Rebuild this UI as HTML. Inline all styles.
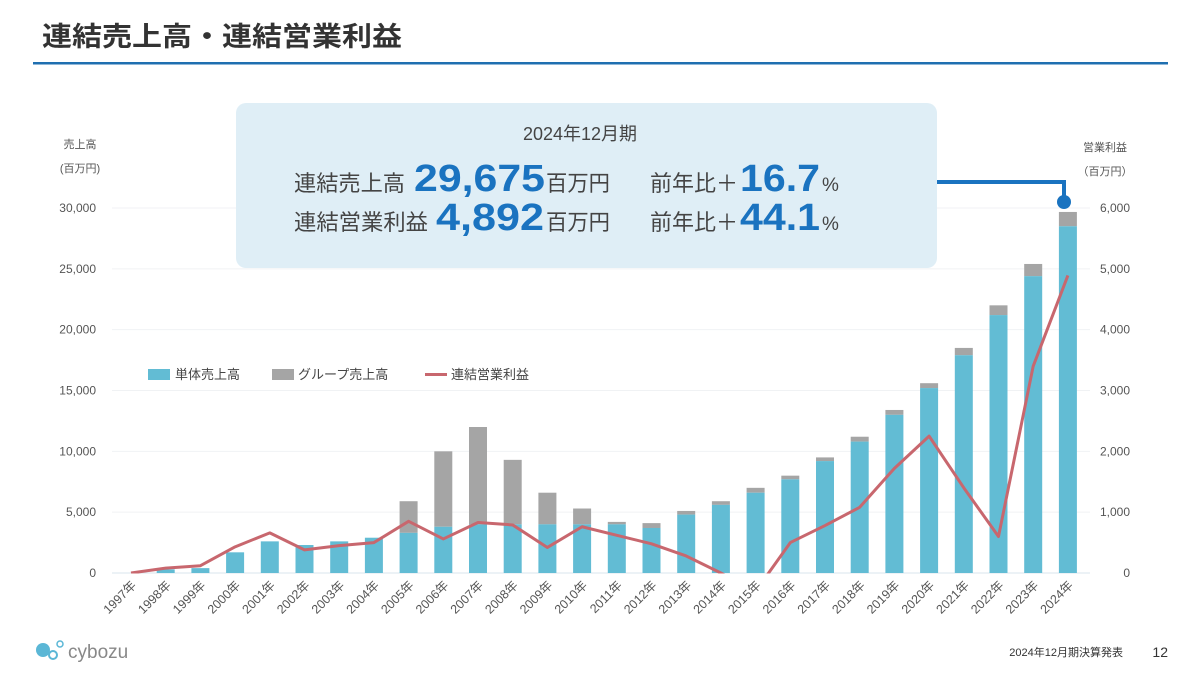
<!DOCTYPE html>
<html><head><meta charset="utf-8"><style>
html,body{margin:0;padding:0;background:#fff}
svg{display:block;font-family:"Liberation Sans","Noto Sans CJK JP",sans-serif}
</style></head><body>
<svg id="s" width="1200" height="675" viewBox="0 0 1200 675" xmlns="http://www.w3.org/2000/svg">
<text x="42" y="46" font-size="27" font-weight="bold" fill="#333" textLength="360" lengthAdjust="spacingAndGlyphs">連結売上高・連結営業利益</text>
<rect x="33" y="62" width="1135" height="2.5" fill="#1f6fb0"/>
<g id="grid"></g>
<g id="bars"></g>
<clipPath id="cp"><rect x="100" y="100" width="1000" height="473.5"/></clipPath>
<polyline id="line" clip-path="url(#cp)" fill="none" stroke="#c8676e" stroke-width="3" stroke-linejoin="round"/>
<g id="xl" font-size="12.5" fill="#555"></g>
<g id="yl" font-size="12" fill="#555"></g>
<text x="80" y="148" font-size="11" fill="#555" text-anchor="middle">売上高</text>
<text x="80" y="172" font-size="11" fill="#555" text-anchor="middle">(百万円)</text>
<text x="1105" y="151" font-size="11" fill="#555" text-anchor="middle">営業利益</text>
<text x="1105" y="175" font-size="11" fill="#555" text-anchor="middle">（百万円）</text>
<rect x="148" y="369" width="22" height="11" fill="#62bcd4"/>
<text x="175" y="379" font-size="13" fill="#444">単体売上高</text>
<rect x="272" y="369" width="22" height="11" fill="#a5a5a5"/>
<text x="298" y="379" font-size="13" fill="#444">グループ売上高</text>
<rect x="425" y="373" width="22" height="3" fill="#c8676e"/>
<text x="451" y="379" font-size="13" fill="#444">連結営業利益</text>
<rect x="236" y="103" width="701" height="165" rx="10" fill="#dfeef6"/>
<text x="580" y="140" font-size="18" fill="#444" text-anchor="middle">2024年12月期</text>
<text x="294" y="191" font-size="22" fill="#444" textLength="111" lengthAdjust="spacingAndGlyphs">連結売上高</text>
<text x="414" y="191" font-size="38" font-weight="bold" fill="#1a73c0" textLength="131" lengthAdjust="spacingAndGlyphs">29,675</text>
<text x="546" y="191" font-size="22" fill="#444" textLength="64" lengthAdjust="spacingAndGlyphs">百万円</text>
<text x="650" y="191" font-size="22" fill="#444" textLength="88" lengthAdjust="spacingAndGlyphs">前年比＋</text>
<text x="740" y="191" font-size="38" font-weight="bold" fill="#1a73c0" textLength="80" lengthAdjust="spacingAndGlyphs">16.7</text>
<text x="822" y="191" font-size="19" fill="#444">%</text>
<text x="294" y="230" font-size="22" fill="#444" textLength="134" lengthAdjust="spacingAndGlyphs">連結営業利益</text>
<text x="436" y="230" font-size="38" font-weight="bold" fill="#1a73c0" textLength="108" lengthAdjust="spacingAndGlyphs">4,892</text>
<text x="546" y="230" font-size="22" fill="#444" textLength="64" lengthAdjust="spacingAndGlyphs">百万円</text>
<text x="650" y="230" font-size="22" fill="#444" textLength="88" lengthAdjust="spacingAndGlyphs">前年比＋</text>
<text x="740" y="230" font-size="38" font-weight="bold" fill="#1a73c0" textLength="80" lengthAdjust="spacingAndGlyphs">44.1</text>
<text x="822" y="230" font-size="19" fill="#444">%</text>
<polyline points="937,182 1064,182 1064,200" fill="none" stroke="#1a73c0" stroke-width="4"/>
<circle cx="1064" cy="202" r="7" fill="#1a73c0"/>
<circle cx="43" cy="650" r="7" fill="#5bb7d6"/>
<circle cx="53" cy="655" r="4" fill="none" stroke="#5bb7d6" stroke-width="2"/>
<circle cx="60" cy="644" r="3" fill="none" stroke="#5bb7d6" stroke-width="1.5"/>
<text x="68" y="658" font-size="19" fill="#888">cybozu</text>
<text x="1123" y="656" font-size="11" fill="#333" text-anchor="end">2024年12月期決算発表</text>
<text x="1168" y="657" font-size="14" fill="#333" text-anchor="end">12</text>
</svg>
<script>
var ns="http://www.w3.org/2000/svg";
function el(t,a,p,txt){var e=document.createElementNS(ns,t);for(var k in a)e.setAttribute(k,a[k]);if(txt!=null)e.textContent=txt;document.getElementById(p).appendChild(e);return e;}
var y0=573,sc=365/30000;
for(var i=0;i<=6;i++){var y=y0-i*5000*sc;
el("line",{x1:112,x2:1090,y1:y,y2:y,stroke:i==0?"#d8e6ee":"#f0f2f4","stroke-width":1},"grid");
el("text",{x:96,y:y+4,"text-anchor":"end"},"yl",i==0?"0":(i*5)+",000");
el("text",{x:1130,y:y+4,"text-anchor":"end"},"yl",i==0?"0":i+",000");}
var d=[[0,0,0],[300,300,80],[400,400,120],[1700,1700,430],[2600,2600,660],[2300,2300,380],[2600,2600,450],[2900,2900,500],
[5900,3300,850],[10000,3800,560],[12000,4000,830],[9300,4000,790],[6600,4000,420],[5300,4000,760],[4200,4000,620],[4100,3700,480],
[5100,4800,280],[5900,5600,0],[7000,6600,-300],[8000,7700,500],[9500,9200,780],[11200,10800,1080],[13400,13000,1720],[15600,15200,2250],
[18500,17900,1400],[22000,21200,600],[25400,24400,3400],[29675,28500,4892]];
var pts=[];
d.forEach(function(r,i){var cx=131+i*34.7;
if(r[0]>0){var ht=r[0]*sc,hs=r[1]*sc;
el("rect",{x:cx-9,y:y0-ht,width:18,height:ht-hs,fill:"#a5a5a5"},"bars");
el("rect",{x:cx-9,y:y0-hs,width:18,height:hs,fill:"#62bcd4"},"bars");}
pts.push(cx+","+(y0-r[2]*sc*5));
var ax=cx+6,ay=586;
el("text",{x:ax,y:ay,"text-anchor":"end",transform:"rotate(-45 "+ax+" "+ay+")"},"xl",(1997+i)+"年");});
document.getElementById("line").setAttribute("points",pts.join(" "));
</script>
</body></html>
